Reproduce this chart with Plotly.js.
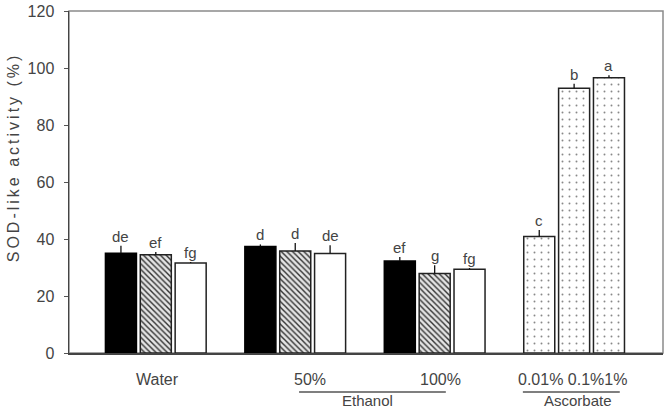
<!DOCTYPE html>
<html>
<head>
<meta charset="utf-8">
<script src="https://cdn.plot.ly/plotly-3.0.1.min.js"></script>
<style>
html,body{margin:0;padding:0;background:#fff;}
#chart{width:672px;height:408px;}
.ytitle-ann text{letter-spacing:3px;}
</style>
</head>
<body>
<div id="chart"></div>
<script>
// ---- data ----
const groups = ['Water', '50%', '100%', 'Ascorbate'];
const blackVals   = [35.0, 37.4, 32.3];
const blackErr    = [2.6, 0.7, 1.4];
const blackLetters = ['de', 'd', 'ef'];
const hatchVals   = [34.5, 35.8, 27.9];
const hatchErr    = [0.9, 2.8, 2.9];
const hatchLetters = ['ef', 'd', 'g'];
const whiteVals   = [31.6, 34.9, 29.4];
const whiteErr    = [0.3, 2.9, 0.4];
const whiteLetters = ['fg', 'de', 'fg'];
const ascCats     = ['0.01%', '0.1%', '1%'];
const ascVals     = [40.9, 92.9, 96.6];
const ascErr      = [2.3, 1.6, 0.9];
const ascLetters  = ['c', 'b', 'a'];
const groupLabels = ['Water', '50%', '100%', '0.01% 0.1%1%'];
const underLabels = ['Ethanol', 'Ascorbate'];

// ---- layout helpers ----
const slot = (g, s) => g * 4 + s;
const FONT = 'Liberation Sans, Arial, sans-serif';
const TXT = '#444';
const M = {l: 69, r: 9, t: 11, b: 55};
const PLOT_H = 408 - M.t - M.b;

function barTrace(vals, errs, xs, marker) {
  return {
    type: 'bar', x: xs, y: vals, width: 0.89,
    marker: marker,
    error_y: {type: 'data', symmetric: false, array: errs, arrayminus: errs.map(() => 0),
              color: '#111', thickness: 1.3, width: 0},
    hoverinfo: 'y', showlegend: false
  };
}

const xsBlack = blackVals.map((_, i) => slot(i, 0));
const xsHatch = hatchVals.map((_, i) => slot(i, 1));
const xsWhite = whiteVals.map((_, i) => slot(i, 2));
const xsAsc   = ascVals.map((_, i) => slot(3, i));

const traces = [
  barTrace(blackVals, blackErr, xsBlack, {color: '#000', line: {color: '#000', width: 1.5}}),
  barTrace(hatchVals, hatchErr, xsHatch, {color: '#dcdcdc', line: {color: '#222', width: 1.5},
    pattern: {shape: '\\', fgcolor: '#333', bgcolor: '#e4e4e4', size: 4, solidity: 0.35}}),
  barTrace(whiteVals, whiteErr, xsWhite, {color: '#fff', line: {color: '#222', width: 1.5}}),
  barTrace(ascVals, ascErr, xsAsc, {color: '#fff', line: {color: '#222', width: 1.5},
    pattern: {shape: '.', fgcolor: '#888', bgcolor: '#fff', size: 7, solidity: 0.06}})
];

const annotations = [];
function addLetters(xs, vals, errs, letters) {
  xs.forEach((x, i) => annotations.push({
    x: x, y: vals[i] + errs[i], xref: 'x', yref: 'y', text: letters[i],
    showarrow: false, yanchor: 'bottom', yshift: -1,
    font: {family: FONT, size: 15, color: TXT}
  }));
}
addLetters(xsBlack, blackVals, blackErr, blackLetters);
addLetters(xsHatch, hatchVals, hatchErr, hatchLetters);
addLetters(xsWhite, whiteVals, whiteErr, whiteLetters);
addLetters(xsAsc, ascVals, ascErr, ascLetters);

const groupLabelX = [1.06, 5.42, 9.18, 12.94];
groupLabels.forEach((t, i) => annotations.push({
  x: groupLabelX[i], y: 0, xref: 'x', yref: 'y', text: t, showarrow: false,
  yanchor: 'middle', yshift: -26, font: {family: FONT, size: 16, color: TXT}
}));
const underX = [7.06, 13.11];
underLabels.forEach((t, i) => annotations.push({
  x: underX[i], y: 0, xref: 'x', yref: 'y', text: t, showarrow: false,
  yanchor: 'middle', yshift: -47, font: {family: FONT, size: 15, color: TXT}
}));
annotations.push({
  x: 0, xref: 'paper', xanchor: 'center', xshift: -55, y: 68.5, yref: 'y',
  text: 'SOD-like activity (%)', textangle: -90, showarrow: false,
  font: {family: FONT, size: 16, color: TXT}, yanchor: 'middle'
});

const underlineSpans = [[5.11, 9.32], [11.53, 14.31]];
const shapes = underlineSpans.map(s => ({
  type: 'line', xref: 'x', yref: 'paper', x0: s[0], x1: s[1],
  y0: -39 / PLOT_H, y1: -39 / PLOT_H,
  line: {color: '#555', width: 1.5}
}));
shapes.push({type: 'rect', xref: 'paper', yref: 'paper', x0: 0, x1: 1, y0: 0, y1: 1,
  line: {color: '#8a8a8a', width: 1.5}, layer: 'below'});

const layout = {
  width: 672, height: 408,
  margin: M,
  paper_bgcolor: '#fff', plot_bgcolor: '#fff',
  barmode: 'overlay',
  showlegend: false,
  xaxis: {range: [-1.49, 15.55], showticklabels: false, ticks: '', showgrid: false,
          zeroline: false, showline: true, linecolor: '#444', linewidth: 1.5, fixedrange: true},
  yaxis: {range: [0, 120], dtick: 20, ticks: 'outside', ticklen: 4, tickcolor: '#555',
          tickwidth: 1, showgrid: false, zeroline: false, showline: true, linecolor: '#444',
          linewidth: 1.5, ticklabelstandoff: 6,
          tickfont: {family: FONT, size: 16, color: TXT}, fixedrange: true},
  annotations: annotations,
  shapes: shapes
};

Plotly.newPlot('chart', traces, layout, {displayModeBar: false, staticPlot: true}).then(() => {
  const anns = document.querySelectorAll('.annotation');
  const last = anns[anns.length - 1];
  if (last) last.classList.add('ytitle-ann');
});
</script>
</body>
</html>
